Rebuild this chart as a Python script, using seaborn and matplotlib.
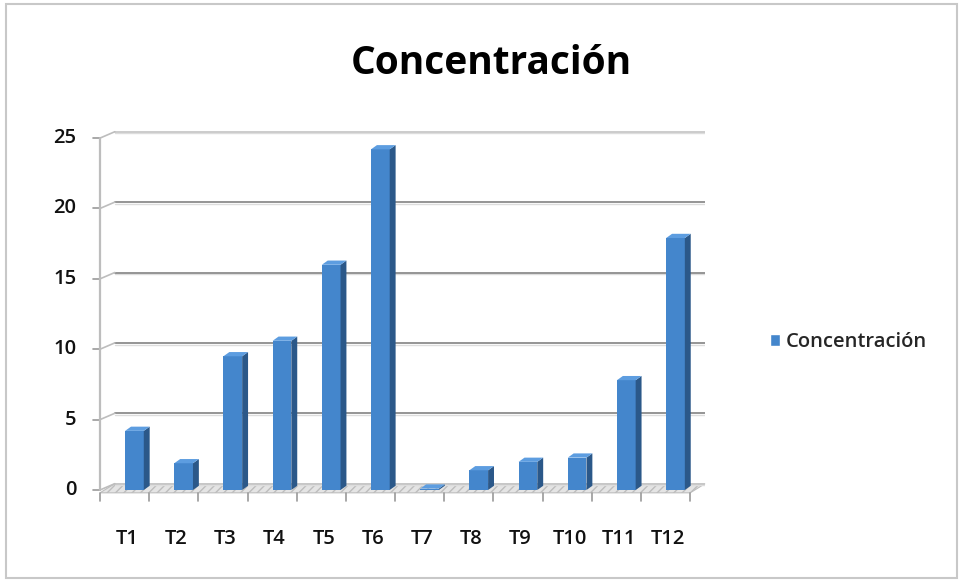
import matplotlib
matplotlib.use("Agg")
import matplotlib.pyplot as plt
from matplotlib.patches import Polygon, Rectangle
from matplotlib.lines import Line2D
import seaborn as sns
import pandas as pd

categories = ["T1", "T2", "T3", "T4", "T5", "T6", "T7", "T8", "T9", "T10", "T11", "T12"]
concentracion = [4.2, 1.9, 9.5, 10.6, 16.0, 24.2, 0.1, 1.4, 2.0, 2.3, 7.8, 17.9]
y_ticks = [0, 5, 10, 15, 20, 25]
series_name = "Concentración"

sns.set_theme(style="white")
plt.rcParams["font.family"] = ["Open Sans", "DejaVu Sans"]

df = pd.DataFrame({"cat": categories, "val": concentracion})

fig = plt.figure(figsize=(9.65, 5.82), dpi=100)
ax = fig.add_axes([100 / 965, 92 / 582, 605 / 965, 366 / 582])

front = "#4486cc"
side = "#2b5889"
topc = "#5d9de0"

sns.barplot(data=df, x="cat", y="val", color=front, width=0.38,
            saturation=1, ax=ax, zorder=5)

# perspective depth in data units
dx, dy = 0.30, 0.45
shift = 0.20
bw_side, bh_top = 0.12, 0.30

n = len(categories)
ax.set_xlim(-0.5, n - 0.5 + dx)
ax.set_ylim(0, 26)
ax.set_xlabel("")
ax.set_ylabel("")
for s in ax.spines.values():
    s.set_visible(False)
ax.set_yticks([])
ax.set_xticks([])

tick_font = dict(fontsize=14.5, color="#111111", fontweight="semibold")

# floor
floor = Polygon([(-0.5, -0.2), (n - 0.5, -0.2), (n - 0.5 + dx, dy), (-0.5 + dx, dy)],
                closed=True, facecolor="#e4e4e4", edgecolor="#bdbdbd",
                hatch="////", lw=0.8, zorder=1, clip_on=False)
ax.add_patch(floor)

# back-wall gridlines and left wall
for v in y_ticks:
    col = "#8c8c8c" if v not in (0, 25) else "#c8c8c8"
    ax.add_line(Line2D([-0.5 + dx, n - 0.5 + dx], [v + dy, v + dy], color=col, lw=1.3, zorder=2))
    ax.add_line(Line2D([-0.5 + dx, n - 0.5 + dx], [v + dy - 0.12, v + dy - 0.12], color="#dddddd", lw=1.0, zorder=1.5))
    ax.add_line(Line2D([-0.5, -0.5 + dx], [v, v + dy], color="#bdbdbd", lw=1.2, zorder=2, clip_on=False))
    ax.add_line(Line2D([-0.5, -0.65], [v, v], color="#9a9a9a", lw=1.2, zorder=2, clip_on=False))
    ax.text(-0.98, v, str(v), ha="right", va="center", **tick_font)
ax.add_line(Line2D([-0.5, -0.5], [0, 25], color="#bdbdbd", lw=1.6, zorder=2, clip_on=False))

# category ticks and labels along the front edge
for i in range(n + 1):
    ax.add_line(Line2D([i - 0.5, i - 0.5], [-0.2, -0.75], color="#9a9a9a", lw=1.2, clip_on=False))
for i, c in enumerate(categories):
    ax.text(i + 0.05, -3.5, c, ha="center", va="center", **tick_font)

# 3D faces on each bar
for p in ax.patches:
    if not isinstance(p, Rectangle) or p.get_height() <= 0 or p.get_zorder() != 5:
        continue
    p.set_x(p.get_x() + shift)
    p.set_edgecolor("none")
    x0, w, h = p.get_x(), p.get_width(), p.get_height()
    x1 = x0 + w
    ax.add_patch(Polygon([(x1, 0), (x1 + bw_side, bh_top), (x1 + bw_side, h + bh_top), (x1, h)],
                         closed=True, facecolor=side, edgecolor="none", zorder=5))
    ax.add_patch(Polygon([(x0, h), (x1, h), (x1 + bw_side, h + bh_top), (x0 + bw_side, h + bh_top)],
                         closed=True, facecolor=topc, edgecolor="none", zorder=5))

fig.text(491 / 965, 1 - 63 / 582, "Concentración", ha="center", va="center",
         fontsize=28, fontweight="bold", color="#000000")

fig.legend(handles=[Rectangle((0, 0), 1, 1, facecolor=front)], labels=[series_name],
           loc="center left", bbox_to_anchor=(752 / 965, 1 - 342 / 582),
           frameon=False, prop=dict(size=14.5, weight="semibold"),
           handlelength=0.5, handleheight=0.5, handletextpad=0.3)

# chart frame
fig.patches.append(Rectangle((6 / 965, 4 / 582), 951 / 965, 574 / 582, transform=fig.transFigure,
                             fill=False, edgecolor="#c8c8c8", lw=1.5))

fig.savefig("out.png", dpi=100)
